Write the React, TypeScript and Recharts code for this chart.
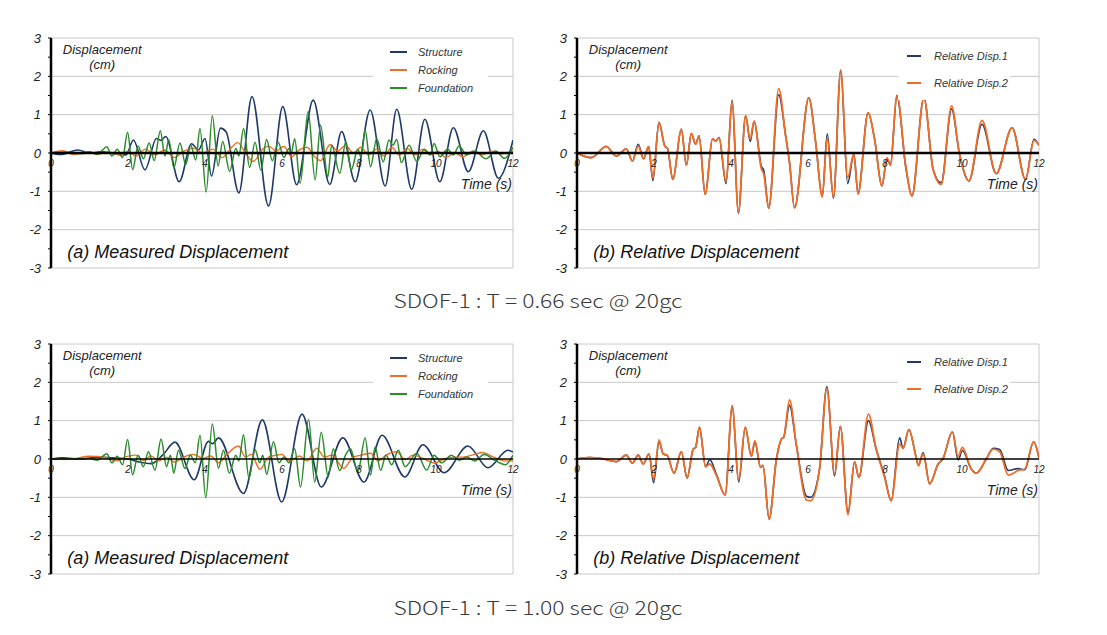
import React from 'react';
import { LineChart, Line, XAxis, YAxis, ReferenceLine, ReferenceDot } from 'recharts';

type Pt = [number, number];

// ---------- axes / labels ----------
const timeTicks = [0, 2, 4, 6, 8, 10, 12];
const dispTicks = [-3, -2.5, -2, -1.5, -1, -0.5, 0, 0.5, 1, 1.5, 2, 2.5, 3];
const gridValues = [-3, -2, -1, 1, 2, 3];

const titleTop = 'SDOF-1 : T = 0.66 sec @ 20gc';
const titleBottom = 'SDOF-1 : T = 1.00 sec @ 20gc';
const captionMeasured = '(a) Measured Displacement';
const captionRelative = '(b) Relative Displacement';
const measuredNames = ['Structure', 'Rocking', 'Foundation'];
const relativeNames = ['Relative Disp.1', 'Relative Disp.2'];

// ---------- T = 0.66 sec ----------
const p066Structure: Pt[] = [
  [0, 0], [0.25, -0.04], [0.7, 0.08], [1.0, 0.0], [1.3, 0.03], [1.7, -0.02], [1.95, -0.05],
  [2.14, 0.34], [2.44, -0.44], [2.74, 0.38], [2.85, 0.33], [2.98, 0.43], [3.33, -0.75],
  [3.65, 0.24], [3.83, 0.08], [4.0, 0.38], [4.17, -0.6], [4.4, 0.65], [4.55, 0.55],
  [4.88, -1.04], [5.22, 1.47], [5.65, -1.38], [6.02, 1.21], [6.38, -0.83], [6.81, 1.38],
  [7.24, -0.82], [7.55, 0.56], [7.9, -0.75], [8.29, 1.12], [8.68, -0.86], [8.98, 1.14],
  [9.37, -0.95], [9.71, 0.88], [10.1, -0.75], [10.45, 0.66], [10.84, -0.49], [11.23, 0.58],
  [11.62, -0.66], [12, 0.34],
];
const p066Rocking: Pt[] = [
  [0, 0], [0.3, 0.06], [0.6, -0.04], [0.9, 0.02], [1.2, -0.03], [1.5, 0.03], [1.8, -0.06],
  [2.0, 0.05], [2.2, -0.08], [2.45, 0.1], [2.7, -0.05], [2.95, 0.08], [3.2, -0.12],
  [3.45, 0.05], [3.7, 0.12], [3.95, 0.0], [4.2, 0.1], [4.45, -0.12], [4.65, 0.1],
  [4.85, 0.27], [5.05, 0.0], [5.25, -0.22], [5.5, 0.1], [5.65, 0.18], [5.85, 0.05],
  [6.05, 0.17], [6.25, -0.1], [6.45, 0.08], [6.65, 0.15], [6.85, -0.1], [7.0, -0.2],
  [7.25, 0.22], [7.45, 0.05], [7.65, 0.2], [7.85, 0.0], [8.05, 0.15], [8.25, -0.05],
  [8.45, 0.1], [8.65, -0.08], [8.85, 0.15], [9.05, -0.05], [9.25, 0.12], [9.45, -0.05],
  [9.65, 0.1], [9.85, -0.05], [10.05, 0.05], [10.25, -0.12], [10.5, 0.0], [10.7, -0.1],
  [10.95, 0.05], [11.2, -0.05], [11.45, 0.05], [11.7, -0.02], [12, 0.05],
];
const p066Foundation: Pt[] = [
  [0, 0], [0.4, 0.02], [0.8, -0.02], [1.0, 0.03], [1.2, -0.04], [1.32, 0.06], [1.45, 0.16],
  [1.58, -0.08], [1.72, 0.1], [1.86, -0.12], [1.99, 0.54], [2.12, -0.43], [2.26, 0.18],
  [2.4, -0.15], [2.55, 0.26], [2.68, -0.2], [2.84, 0.58], [2.96, -0.08], [3.06, 0.35],
  [3.19, -0.39], [3.35, 0.26], [3.5, -0.3], [3.63, 0.2], [3.76, -0.18], [3.87, 0.64],
  [4.03, -1.02], [4.19, 0.97], [4.34, -0.34], [4.46, 0.3], [4.64, -0.48], [4.8, 0.12],
  [4.88, -0.08], [5.0, 0.64], [5.16, -0.38], [5.3, 0.28], [5.45, -0.45], [5.6, 0.35],
  [5.75, -0.2], [5.9, 0.28], [6.05, -0.12], [6.18, 0.12], [6.24, 0.0], [6.33, 0.37],
  [6.47, -0.79], [6.68, 1.08], [6.86, -0.7], [7.0, 0.73], [7.19, -0.62], [7.29, 0.21],
  [7.5, -0.53], [7.66, 0.3], [7.8, -0.44], [7.97, 0.1], [8.05, -0.1], [8.16, 0.6],
  [8.3, -0.36], [8.46, 0.38], [8.63, -0.23], [8.78, 0.34], [8.88, 0.2], [8.98, 0.35],
  [9.1, -0.25], [9.3, 0.2], [9.5, -0.22], [9.7, 0.1], [9.85, -0.05], [9.95, 0.25],
  [10.1, -0.1], [10.3, 0.1], [10.45, -0.05], [10.6, 0.18], [10.8, -0.05], [11.0, 0.05],
  [11.3, -0.15], [11.55, 0.05], [11.78, -0.14], [12, 0.15],
];
const p066Rel1: Pt[] = [
  [0, 0], [0.37, -0.12], [0.76, 0.17], [1.02, -0.08], [1.28, 0.11], [1.44, -0.21], [1.59, 0.23],
  [1.73, -0.15], [1.86, 0.17], [1.97, -0.72], [2.13, 0.8], [2.28, 0.18], [2.35, 0.12],
  [2.49, -0.69], [2.71, 0.62], [2.84, -0.32], [2.97, 0.51], [3.08, 0.23], [3.17, 0.45],
  [3.33, -1.08], [3.52, 0.37], [3.6, 0.31], [3.69, 0.4], [3.87, -0.8], [4.03, 1.38],
  [4.19, -1.58], [4.38, 0.97], [4.5, 0.3], [4.6, 0.83], [4.79, -0.35], [4.85, -0.45],
  [4.98, -1.44], [5.24, 1.52], [5.42, 0.44], [5.52, -0.25], [5.65, -1.43], [6.02, 1.44],
  [6.2, 0.27], [6.37, -1.14], [6.5, 0.5], [6.66, -1.18], [6.85, 2.16], [7.03, -0.8],
  [7.19, -0.03], [7.3, -1.05], [7.56, 1.05], [7.73, 0.36], [7.92, -0.86], [8.05, -0.15],
  [8.14, -0.3], [8.31, 1.48], [8.54, -0.38], [8.7, -1.12], [9.01, 1.44], [9.25, -0.43],
  [9.46, -0.78], [9.73, 1.15], [9.93, 0.0], [10.18, -0.73], [10.52, 0.75], [10.89, -0.54],
  [11.3, 0.66], [11.65, -0.69], [11.87, 0.36], [12, 0.2],
];
const p066Rel2: Pt[] = [
  [0, 0], [0.37, -0.12], [0.76, 0.17], [1.02, -0.08], [1.28, 0.11], [1.44, -0.21], [1.59, 0.18],
  [1.73, -0.15], [1.86, 0.17], [1.97, -0.66], [2.13, 0.79], [2.28, 0.18], [2.35, 0.12],
  [2.49, -0.69], [2.71, 0.62], [2.84, -0.32], [2.97, 0.51], [3.08, 0.23], [3.17, 0.43],
  [3.33, -1.08], [3.52, 0.37], [3.6, 0.31], [3.69, 0.4], [3.87, -0.74], [4.03, 1.32],
  [4.19, -1.56], [4.38, 0.97], [4.5, 0.36], [4.6, 0.83], [4.79, -0.42], [4.85, -0.55],
  [4.98, -1.44], [5.24, 1.68], [5.42, 0.44], [5.52, -0.25], [5.65, -1.43], [6.02, 1.44],
  [6.2, 0.27], [6.37, -1.14], [6.5, 0.4], [6.66, -1.15], [6.85, 2.16], [7.03, -0.64],
  [7.19, -0.03], [7.3, -1.08], [7.56, 1.05], [7.73, 0.36], [7.92, -0.86], [8.05, -0.12],
  [8.14, -0.32], [8.31, 1.51], [8.54, -0.34], [8.7, -1.12], [9.01, 1.44], [9.25, -0.43],
  [9.46, -0.82], [9.73, 1.23], [9.93, 0.0], [10.18, -0.73], [10.52, 0.85], [10.89, -0.54],
  [11.3, 0.66], [11.65, -0.69], [11.87, 0.33], [12, 0.2],
];

// ---------- T = 1.00 sec ----------
const p100Structure: Pt[] = [
  [0, 0], [0.3, 0.03], [0.8, 0.0], [1.2, 0.05], [1.6, 0.03], [2.0, 0.0], [2.3, -0.08],
  [2.6, -0.12], [2.9, 0.1], [3.22, 0.44], [3.72, -0.54], [4.09, 0.46], [4.2, 0.4],
  [4.35, 0.55], [5.0, -0.9], [5.49, 1.02], [5.99, -1.12], [6.52, 1.17], [7.02, -0.73],
  [7.58, 0.55], [8.13, -0.6], [8.6, 0.62], [9.19, -0.47], [9.66, 0.37], [10.21, -0.36],
  [10.83, 0.34], [11.35, -0.23], [11.87, 0.23], [12, 0.18],
];
const p100Rocking: Pt[] = [
  [0, 0], [0.5, 0.0], [1.0, 0.07], [1.4, 0.04], [1.7, -0.05], [1.95, 0.06], [2.2, 0.1],
  [2.4, -0.04], [2.6, 0.08], [2.8, -0.05], [3.0, 0.05], [3.2, -0.08], [3.45, 0.05],
  [3.7, 0.12], [3.95, 0.02], [4.15, 0.08], [4.35, -0.1], [4.55, 0.1], [4.87, 0.34],
  [5.05, 0.05], [5.2, 0.12], [5.43, -0.27], [5.65, 0.05], [5.85, 0.1], [6.0, 0.12],
  [6.2, -0.05], [6.45, 0.08], [6.65, -0.05], [6.9, 0.28], [7.1, 0.05], [7.3, 0.1],
  [7.6, -0.24], [7.85, 0.05], [8.05, 0.1], [8.3, 0.15], [8.5, -0.05], [8.7, 0.1],
  [8.98, 0.19], [9.2, -0.02], [9.4, 0.1], [9.7, 0.0], [9.97, -0.11], [10.2, 0.0],
  [10.45, 0.05], [10.7, 0.05], [11.0, 0.12], [11.19, 0.17], [11.5, 0.05], [11.8, -0.05],
  [12, -0.05],
];
const p100Foundation: Pt[] = [
  [0, 0], [0.6, 0.0], [1.0, 0.02], [1.2, -0.03], [1.32, 0.05], [1.45, 0.14], [1.58, -0.1],
  [1.72, 0.07], [1.86, -0.15], [1.99, 0.51], [2.12, -0.41], [2.26, 0.1], [2.4, -0.2],
  [2.53, 0.19], [2.7, -0.29], [2.86, 0.52], [3.0, -0.2], [3.1, 0.1], [3.19, -0.37],
  [3.31, 0.23], [3.48, -0.25], [3.62, 0.1], [3.75, -0.1], [3.87, 0.62], [4.02, -1.01],
  [4.19, 0.91], [4.35, -0.24], [4.48, 0.23], [4.63, -0.37], [4.8, 0.1], [4.88, -0.05],
  [5.0, 0.63], [5.14, -0.5], [5.3, 0.25], [5.42, -0.1], [5.5, 0.1], [5.6, -0.4],
  [5.78, 0.45], [5.92, -0.1], [6.05, 0.05], [6.18, -0.1], [6.33, 0.27], [6.48, -0.73],
  [6.69, 1.03], [6.85, -0.6], [7.02, 0.7], [7.2, -0.47], [7.33, 0.27], [7.5, -0.3],
  [7.65, 0.1], [7.78, 0.27], [7.97, -0.34], [8.16, 0.55], [8.3, -0.42], [8.42, 0.32],
  [8.56, -0.3], [8.7, 0.1], [8.85, -0.15], [9.02, 0.23], [9.2, -0.2], [9.5, 0.15],
  [9.76, -0.29], [9.95, 0.1], [10.15, -0.1], [10.4, 0.1], [10.6, -0.03], [10.8, 0.05],
  [11.0, -0.05], [11.25, 0.12], [11.55, -0.05], [11.8, -0.15], [12, 0.1],
];
const p100Rel1: Pt[] = [
  [0, 0], [0.33, 0.04], [0.7, 0.0], [1.02, -0.07], [1.28, 0.1], [1.44, -0.11], [1.59, 0.1],
  [1.72, -0.13], [1.87, 0.13], [1.99, -0.62], [2.13, 0.45], [2.24, 0.13], [2.34, 0.1],
  [2.52, -0.37], [2.71, 0.19], [2.86, -0.5], [3.02, 0.26], [3.08, 0.3], [3.18, 0.83],
  [3.34, -0.2], [3.45, -0.02], [3.62, -0.4], [3.85, -0.94], [4.03, 1.39], [4.2, -0.6],
  [4.37, 0.83], [4.53, 0.07], [4.62, 0.45], [4.77, -0.22], [4.83, -0.17], [4.99, -1.57],
  [5.18, 0.0], [5.31, 0.52], [5.37, 0.57], [5.52, 1.4], [5.7, 0.35], [5.96, -0.97],
  [6.07, -1.0], [6.3, -0.26], [6.49, 1.89], [6.69, -0.44], [6.84, 0.85], [7.04, -1.4],
  [7.21, -0.07], [7.32, -0.48], [7.57, 1.0], [7.77, 0.26], [7.99, -0.45], [8.16, -1.09],
  [8.38, 0.55], [8.47, 0.28], [8.62, 0.77], [8.81, 0.04], [8.87, -0.17], [8.99, 0.17],
  [9.16, -0.65], [9.38, -0.13], [9.51, 0.02], [9.75, 0.71], [9.9, -0.02], [10.01, 0.22],
  [10.24, -0.26], [10.37, -0.37], [10.63, 0.0], [10.81, 0.28], [10.98, 0.25], [11.2, -0.3],
  [11.46, -0.25], [11.63, -0.28], [11.86, 0.45], [12, 0.02],
];
const p100Rel2: Pt[] = [
  [0, 0], [0.33, 0.04], [0.7, 0.0], [1.02, -0.07], [1.28, 0.1], [1.44, -0.11], [1.59, 0.1],
  [1.72, -0.13], [1.87, 0.13], [1.99, -0.52], [2.13, 0.5], [2.24, 0.13], [2.34, 0.1],
  [2.52, -0.37], [2.71, 0.19], [2.86, -0.5], [3.02, 0.26], [3.08, 0.3], [3.18, 0.83],
  [3.34, -0.2], [3.45, -0.13], [3.62, -0.43], [3.85, -0.94], [4.03, 1.39], [4.2, -0.54],
  [4.37, 0.83], [4.53, 0.07], [4.62, 0.48], [4.77, -0.22], [4.83, -0.17], [4.99, -1.57],
  [5.18, 0.0], [5.31, 0.52], [5.37, 0.57], [5.52, 1.54], [5.7, 0.35], [5.96, -1.07],
  [6.07, -1.09], [6.3, -0.26], [6.49, 1.84], [6.69, -0.39], [6.84, 0.85], [7.04, -1.46],
  [7.21, -0.07], [7.32, -0.48], [7.57, 1.17], [7.77, 0.26], [7.99, -0.48], [8.16, -1.09],
  [8.38, 0.39], [8.47, 0.28], [8.62, 0.77], [8.81, 0.04], [8.87, -0.17], [8.99, 0.13],
  [9.16, -0.65], [9.38, -0.13], [9.51, 0.02], [9.75, 0.71], [9.9, 0.07], [10.01, 0.3],
  [10.24, -0.26], [10.37, -0.37], [10.63, 0.0], [10.81, 0.26], [10.98, 0.19], [11.2, -0.42],
  [11.46, -0.3], [11.63, -0.26], [11.86, 0.45], [12, 0.02],
];

// ---------- styles ----------
const NAVY = '#1f3a68';
const ORANGE = '#f26d25';
const GREEN = '#2c8c2c';
const FONT = '"Liberation Sans", Arial, sans-serif';

interface Series { name: string; color: string; width: number; data: Pt[] }
interface LegendSpec { left: number; top: number; width: number; height: number; lineLeft: number; lineWidth: number; textLeft: number; rows: number[] }

const toRows = (pts: Pt[]) => pts.map(([t, v]) => ({ t, v }));

const YTick = (props: any) => {
  const { x, y, payload } = props;
  if (!Number.isInteger(payload.value)) return <g />;
  return (
    <text x={x} y={y} textAnchor="end" dominantBaseline="central" fontSize={13} fontStyle="italic" fill="#222" fontFamily={FONT}>
      {payload.value}
    </text>
  );
};

function Panel({ left, top, series, zeroWidth, caption, legend }: { left: number; top: number; series: Series[]; zeroWidth: number; caption: string; legend: LegendSpec }) {
  return (
    <div style={{ position: 'absolute', left, top, width: 530, height: 290 }}>
      <LineChart width={530} height={290} margin={{ top: 38, right: 17, bottom: 22, left: 0 }}>
        <XAxis type="number" dataKey="t" domain={[0, 12]} ticks={timeTicks} hide allowDataOverflow />
        <YAxis
          type="number"
          domain={[-3, 3]}
          ticks={dispTicks}
          interval={0}
          width={51}
          tickSize={3}
          tickMargin={7}
          axisLine={{ stroke: '#000', strokeWidth: 2.5 }}
          tickLine={{ stroke: '#000' }}
          tick={YTick}
          allowDataOverflow
        />
        {gridValues.map((g) => (
          <ReferenceLine key={'g' + g} y={g} stroke="#c8c8c8" strokeWidth={1} />
        ))}
        <ReferenceLine x={12} stroke="#c8c8c8" strokeWidth={1} />
        {series.map((s) => (
          <Line
            key={s.name}
            data={toRows(s.data)}
            dataKey="v"
            name={s.name}
            type="monotone"
            stroke={s.color}
            strokeWidth={s.width}
            dot={false}
            activeDot={false}
            isAnimationActive={false}
          />
        ))}
        <ReferenceLine y={0} stroke="#000" strokeWidth={zeroWidth} />
        {timeTicks.map((t) => (
          <ReferenceDot
            key={'x' + t}
            x={t}
            y={0}
            r={0}
            fill="none"
            stroke="none"
            label={{ value: String(t), position: 'bottom', offset: 7, fontSize: 10, fontStyle: 'italic', fill: '#222', fontFamily: FONT }}
          />
        ))}
        <ReferenceDot x={1.33} y={2.71} r={0} fill="none" stroke="none"
          label={{ value: 'Displacement', position: 'center', fontSize: 13, fontStyle: 'italic', fill: '#222', fontFamily: FONT }} />
        <ReferenceDot x={1.33} y={2.32} r={0} fill="none" stroke="none"
          label={{ value: '(cm)', position: 'center', fontSize: 13, fontStyle: 'italic', fill: '#222', fontFamily: FONT }} />
        <ReferenceDot x={12} y={-0.8} r={0} fill="none" stroke="none"
          label={{ value: 'Time (s)', position: 'left', offset: 1, fontSize: 14, fontStyle: 'italic', fill: '#222', fontFamily: FONT }} />
        <ReferenceDot x={0.42} y={-2.58} r={0} fill="none" stroke="none"
          label={{ value: caption, position: 'right', offset: 0, fontSize: 18, fontStyle: 'italic', fill: '#111', fontFamily: FONT }} />
      </LineChart>
      <div style={{ position: 'absolute', left: legend.left, top: legend.top, width: legend.width, height: legend.height, background: '#fff' }}>
        {series.map((s, i) => (
          <div key={s.name} style={{ position: 'absolute', left: 0, top: legend.rows[i] - legend.top - 8, height: 16, width: legend.width }}>
            <div style={{ position: 'absolute', left: legend.lineLeft - legend.left, top: 7, width: legend.lineWidth, height: 0, borderTop: `2px solid ${s.color}` }} />
            <div style={{ position: 'absolute', left: legend.textLeft - legend.left, top: 0, lineHeight: '16px', fontSize: 11, fontStyle: 'italic', color: '#333', fontFamily: FONT, whiteSpace: 'nowrap' }}>
              {s.name}
            </div>
          </div>
        ))}
      </div>
    </div>
  );
}

const measuredLegend: LegendSpec = { left: 373, top: 40, width: 115, height: 58, lineLeft: 390, lineWidth: 17, textLeft: 418, rows: [52, 70, 88] };
const relativeLegend: LegendSpec = { left: 898 - 526, top: 40, width: 112, height: 60, lineLeft: 907 - 526, lineWidth: 14, textLeft: 934 - 526, rows: [56, 83] };

export default function App() {
  const m066: Series[] = [
    { name: measuredNames[0], color: NAVY, width: 1.6, data: p066Structure },
    { name: measuredNames[1], color: ORANGE, width: 1.4, data: p066Rocking },
    { name: measuredNames[2], color: GREEN, width: 1.5, data: p066Foundation },
  ];
  const r066: Series[] = [
    { name: relativeNames[0], color: NAVY, width: 1.6, data: p066Rel1 },
    { name: relativeNames[1], color: ORANGE, width: 1.8, data: p066Rel2 },
  ];
  const m100: Series[] = [
    { name: measuredNames[0], color: NAVY, width: 1.6, data: p100Structure },
    { name: measuredNames[1], color: ORANGE, width: 1.4, data: p100Rocking },
    { name: measuredNames[2], color: GREEN, width: 1.5, data: p100Foundation },
  ];
  const r100: Series[] = [
    { name: relativeNames[0], color: NAVY, width: 1.6, data: p100Rel1 },
    { name: relativeNames[1], color: ORANGE, width: 1.8, data: p100Rel2 },
  ];
  return (
    <div style={{ position: 'absolute', left: 0, top: 0, width: 1107, height: 635, background: '#fff', fontFamily: FONT }}>
      <svg width={1107} height={635} style={{ position: 'absolute', left: 0, top: 0 }}>
        <text x={538} y={308} textAnchor="middle" fontSize={19} fontWeight={300} fill="#3a3a3a" fontFamily='"Noto Sans CJK KR", sans-serif' textLength={289} lengthAdjust="spacingAndGlyphs">{titleTop}</text>
        <text x={538} y={615} textAnchor="middle" fontSize={19} fontWeight={300} fill="#3a3a3a" fontFamily='"Noto Sans CJK KR", sans-serif' textLength={289} lengthAdjust="spacingAndGlyphs">{titleBottom}</text>
      </svg>
      <Panel left={0} top={0} series={m066} zeroWidth={2.5} caption={captionMeasured} legend={measuredLegend} />
      <Panel left={526} top={0} series={r066} zeroWidth={2.5} caption={captionRelative} legend={relativeLegend} />
      <Panel left={0} top={306} series={m100} zeroWidth={1.5} caption={captionMeasured} legend={measuredLegend} />
      <Panel left={526} top={306} series={r100} zeroWidth={1.5} caption={captionRelative} legend={relativeLegend} />
    </div>
  );
}
